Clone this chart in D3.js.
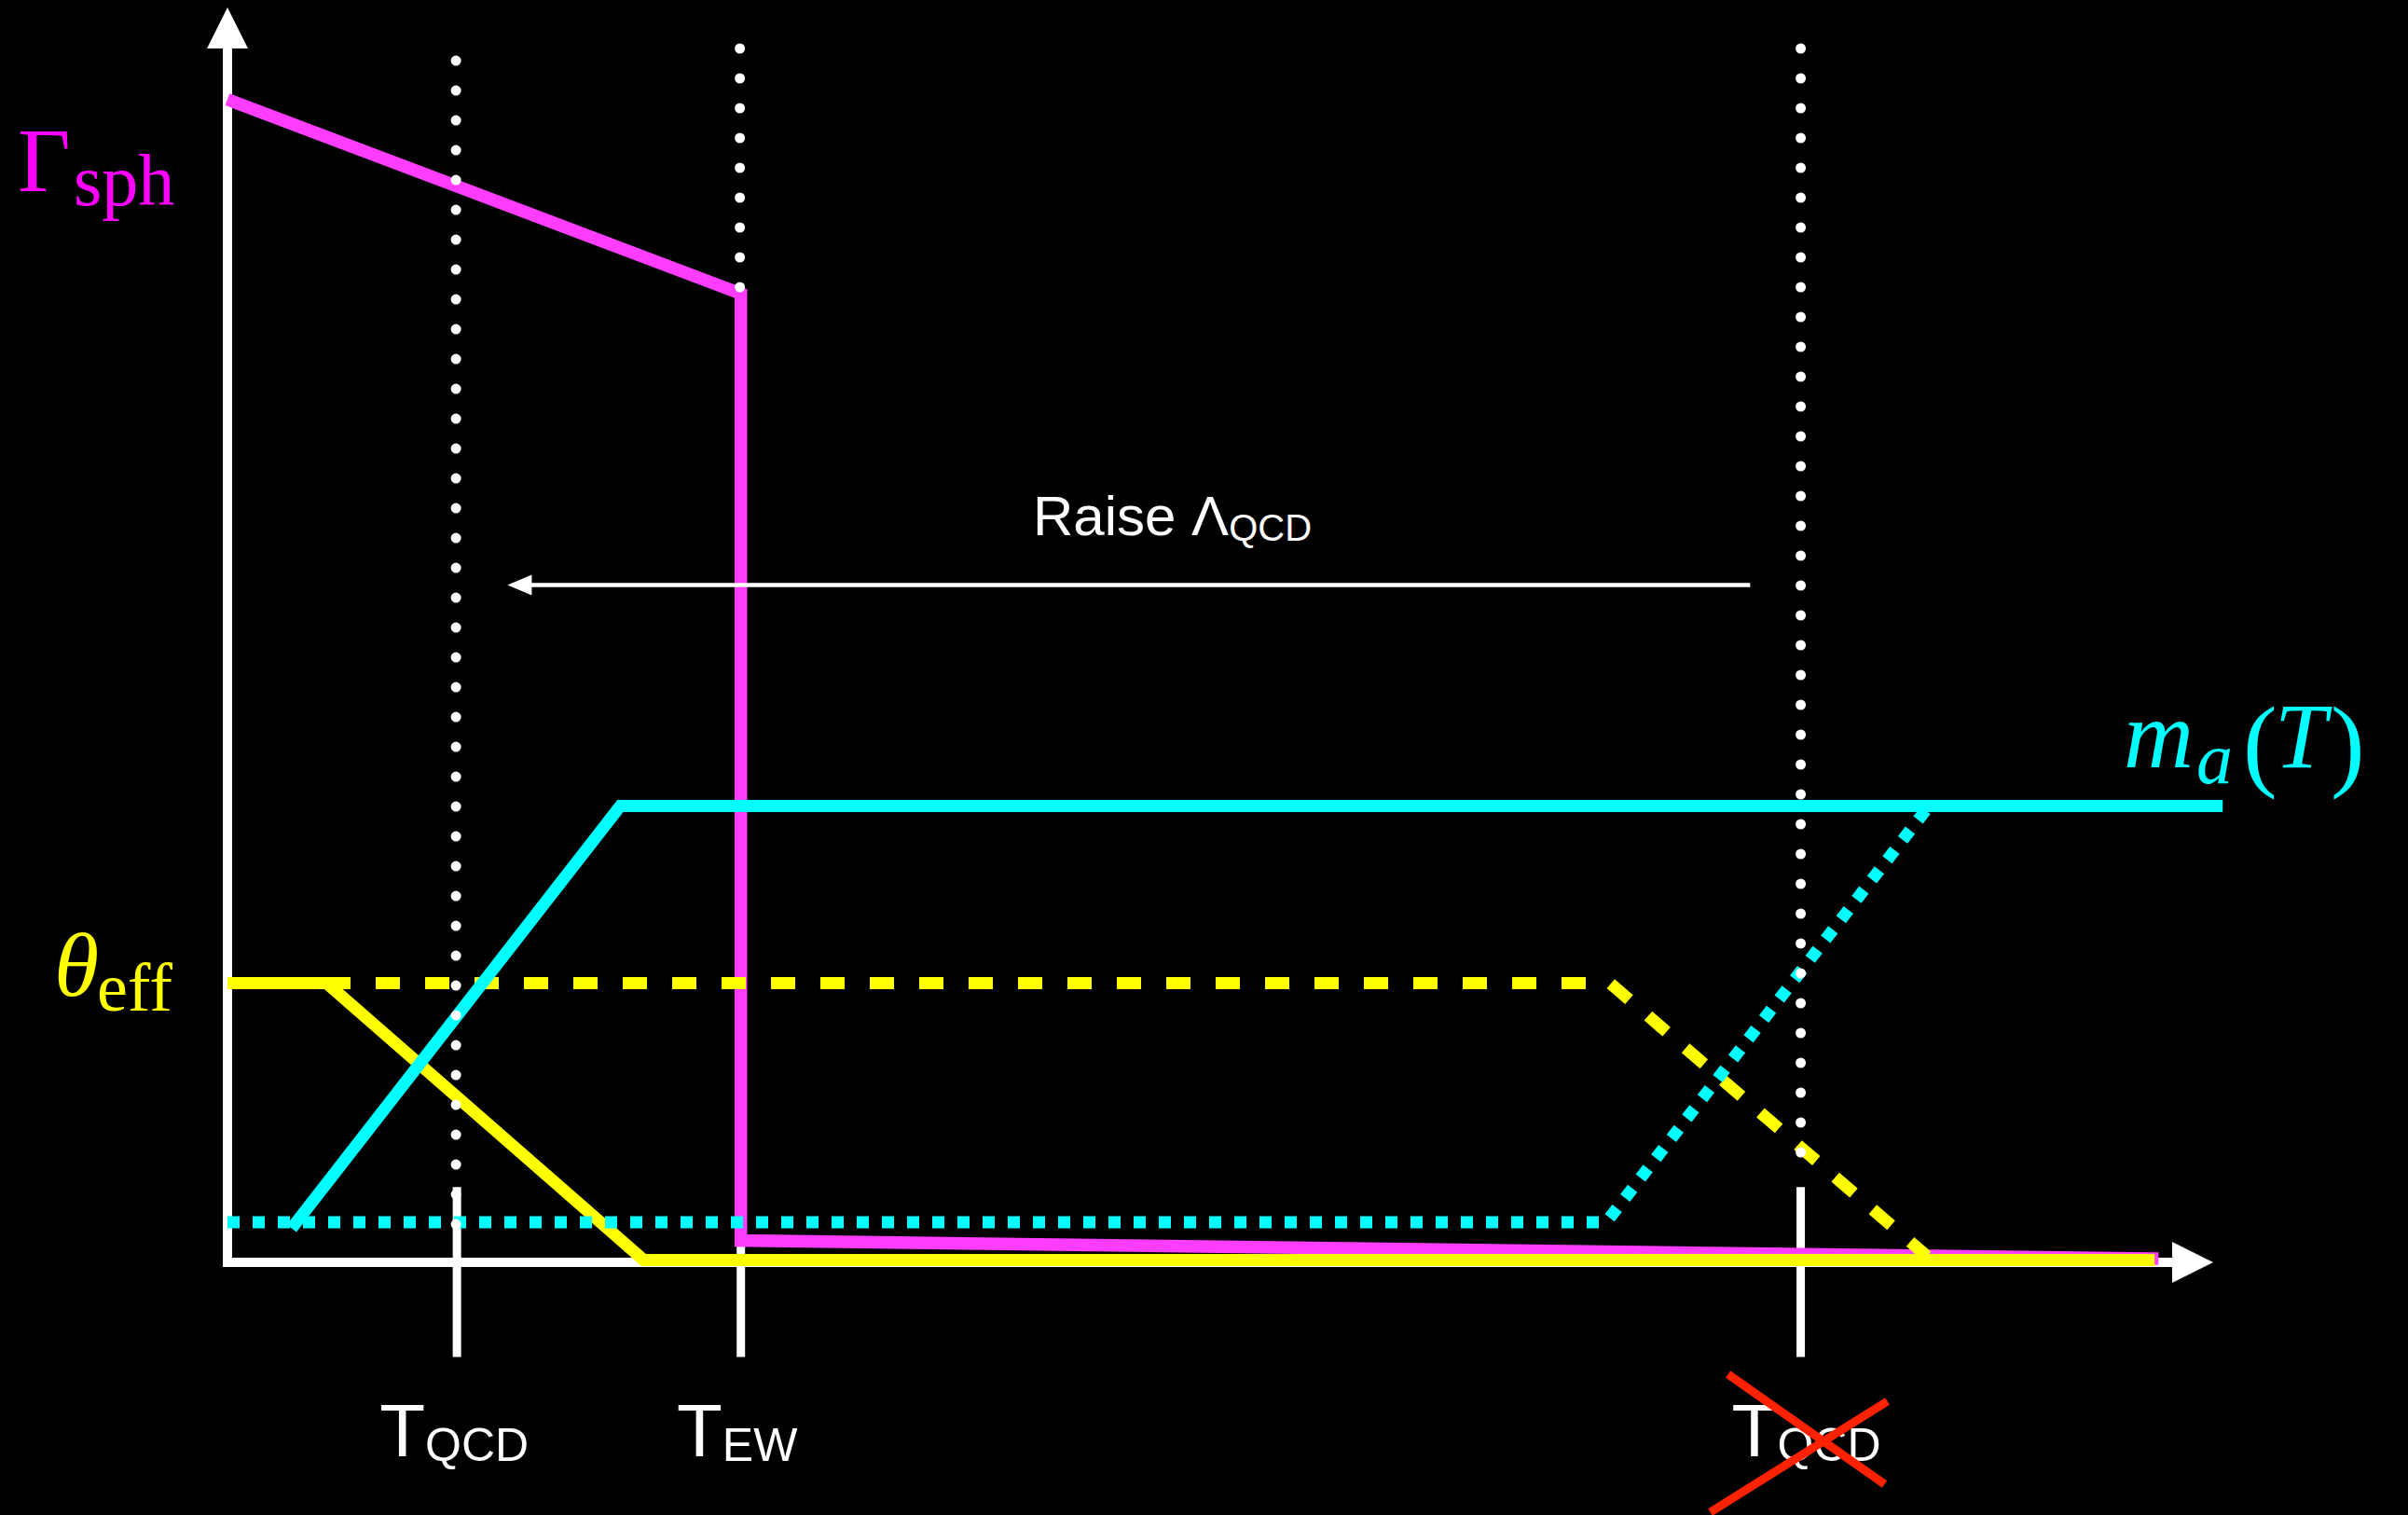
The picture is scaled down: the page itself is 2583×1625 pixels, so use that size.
<!DOCTYPE html>
<html>
<head>
<meta charset="utf-8">
<script src="https://cdn.jsdelivr.net/npm/d3@7"></script>
<style>
  html, body { margin: 0; padding: 0; background: #000; }
  svg { display: block; }
</style>
</head>
<body>
<div id="chart"></div>
<script>
// ---------- data (abstract units: x = temperature axis 0..100, y = value axis 0..100) ----------
const tempMarks   = [11.8, 26.4, 80.9];          // T_QCD, T_EW, old T_QCD
const tempSubs    = ["QCD", "EW", "QCD"];
const tempCrossed = [false, false, true];

const gammaSph    = [[0, 95.8], [26.4, 79.8], [26.4, 1.8], [99.3, 0.3]];
const maSolid     = [[3.3, 2.8], [20.2, 37.6], [102.6, 37.6]];
const maRaised    = [[0, 3.3], [70.9, 3.3], [87.5, 37.6]];
const thetaSolid  = [[0, 23.0], [5.1, 23.0], [21.4, 0.2], [99.1, 0.2]];
const thetaRaised = [[0, 23.0], [71.1, 23.0], [87.4, 0.5]];

// dotted guide lines: [x, yTop, yBottom]
const guideLines  = [[11.75, 99.0, 0.8], [26.35, 100, 79.8], [80.9, 100, 6.8]];
const tickSpan    = [6.2, -7.8];
const shiftArrow  = [78.3, 14.4, 55.8];          // from x, to x, at y

// ---------- setup ----------
const W = 2583, H = 1625;
const svg = d3.select("#chart").append("svg").attr("width", W).attr("height", H)
  .style("background", "#000");
svg.append("rect").attr("width", W).attr("height", H).attr("fill", "#000");

const x = d3.scaleLinear().domain([0, 100]).range([244, 2330]);
const y = d3.scaleLinear().domain([0, 100]).range([1354, 52]);
const line = d3.line().x(d => x(d[0])).y(d => y(d[1]));

const WHITE = "#ffffff", MAG = "#ff3dff", CYAN = "#00ffff", YEL = "#ffff00";

// ---------- axes ----------
const axes = svg.append("g");
axes.append("line").attr("x1", x(0)).attr("x2", x(0)).attr("y1", y(0) + 5).attr("y2", y(100))
  .attr("stroke", WHITE).attr("stroke-width", 10);
axes.append("line").attr("x1", x(0) - 5).attr("x2", x(100)).attr("y1", y(0)).attr("y2", y(0))
  .attr("stroke", WHITE).attr("stroke-width", 10);
axes.append("path")
  .attr("d", `M${x(0) - 22},${y(100)} L${x(0)},${y(100) - 44} L${x(0) + 22},${y(100)} Z`)
  .attr("fill", WHITE);
axes.append("path")
  .attr("d", `M${x(100)},${y(0) - 22} L${x(100) + 44},${y(0)} L${x(100)},${y(0) + 22} Z`)
  .attr("fill", WHITE);

// ticks crossing the axis
axes.selectAll("line.tick").data(tempMarks).join("line").attr("class", "tick")
  .attr("x1", d => x(d)).attr("x2", d => x(d))
  .attr("y1", y(tickSpan[0])).attr("y2", y(tickSpan[1]))
  .attr("stroke", WHITE).attr("stroke-width", 9);

// ---------- curves ----------
const curves = svg.append("g").attr("fill", "none").attr("stroke-linejoin", "miter");
curves.append("path").datum(gammaSph).attr("d", line)
  .attr("stroke", MAG).attr("stroke-width", 13.5);
curves.append("path").datum(thetaRaised).attr("d", line)
  .attr("stroke", YEL).attr("stroke-width", 13).attr("stroke-dasharray", "26 27");
curves.append("path").datum(thetaSolid).attr("d", line)
  .attr("stroke", YEL).attr("stroke-width", 13);
curves.append("path").datum(maSolid).attr("d", line)
  .attr("stroke", CYAN).attr("stroke-width", 13);
curves.append("path").datum(maRaised).attr("d", line)
  .attr("stroke", CYAN).attr("stroke-width", 13).attr("stroke-dasharray", "13 14");

// ---------- dotted guides ----------
svg.append("g").selectAll("line").data(guideLines).join("line")
  .attr("x1", d => x(d[0])).attr("x2", d => x(d[0]))
  .attr("y1", d => y(d[1])).attr("y2", d => y(d[2]))
  .attr("stroke", WHITE).attr("stroke-width", 11)
  .attr("stroke-linecap", "round").attr("stroke-dasharray", "0 32");

// ---------- "Raise Λ_QCD" arrow ----------
svg.append("line").attr("x1", x(shiftArrow[0])).attr("x2", x(shiftArrow[1]) + 20)
  .attr("y1", y(shiftArrow[2])).attr("y2", y(shiftArrow[2]))
  .attr("stroke", WHITE).attr("stroke-width", 4.5);
svg.append("path")
  .attr("d", `M${x(shiftArrow[1])},${y(shiftArrow[2])} l26,-11 l0,22 Z`)
  .attr("fill", WHITE);
const raise = svg.append("text").attr("x", 1108).attr("y", 574)
  .attr("font-family", "'Liberation Sans', Arial, sans-serif").attr("font-size", 60).attr("fill", WHITE);
raise.append("tspan").text("Raise Λ");
raise.append("tspan").attr("font-size", 40).attr("dy", 6).text("QCD");

// ---------- tick labels ----------
const labelShift = [-3, -4, 6];
const tl = svg.append("g").attr("font-family", "'Liberation Sans', Arial, sans-serif").attr("fill", WHITE);
tempMarks.forEach((t, i) => {
  const tx = tl.append("text").attr("x", x(t) + labelShift[i]).attr("y", 1562).attr("text-anchor", "middle");
  tx.append("tspan").attr("font-size", 80).text("T");
  tx.append("tspan").attr("font-size", 50).attr("dy", 5).text(tempSubs[i]);
  if (tempCrossed[i]) {
    const cx = x(t);
    svg.append("line").attr("x1", cx - 78).attr("y1", 1474).attr("x2", cx + 90).attr("y2", 1592)
      .attr("stroke", "#ff2200").attr("stroke-width", 9);
    svg.append("line").attr("x1", cx + 93).attr("y1", 1503).attr("x2", cx - 97).attr("y2", 1622)
      .attr("stroke", "#ff2200").attr("stroke-width", 9);
  }
});

// ---------- curve labels ----------
const serif = "'Liberation Serif', 'Times New Roman', serif";
const g1 = svg.append("text").attr("font-family", serif).attr("fill", "#ff00ff");
g1.append("tspan").attr("x", 19).attr("y", 205).attr("font-size", 98).text("Γ");
g1.append("tspan").attr("x", 79).attr("y", 220).attr("font-size", 78).text("sph");

const g2 = svg.append("text").attr("font-family", serif).attr("fill", YEL);
g2.append("tspan").attr("x", 58).attr("y", 1068).attr("font-size", 98).attr("font-style", "italic").text("θ");
g2.append("tspan").attr("x", 104).attr("y", 1084).attr("font-size", 74).text("eff");

const g3 = svg.append("text").attr("font-family", serif).attr("fill", CYAN);
g3.append("tspan").attr("x", 2278).attr("y", 823).attr("font-size", 104).attr("font-style", "italic").text("m");
g3.append("tspan").attr("x", 2356).attr("y", 840).attr("font-size", 78).attr("font-style", "italic").text("a");
g3.append("tspan").attr("x", 2406).attr("y", 834).attr("font-size", 110).text("(");
g3.append("tspan").attr("x", 2440).attr("y", 823).attr("font-size", 100).attr("font-style", "italic").text("T");
g3.append("tspan").attr("x", 2500).attr("y", 834).attr("font-size", 110).text(")");
</script>
</body>
</html>
